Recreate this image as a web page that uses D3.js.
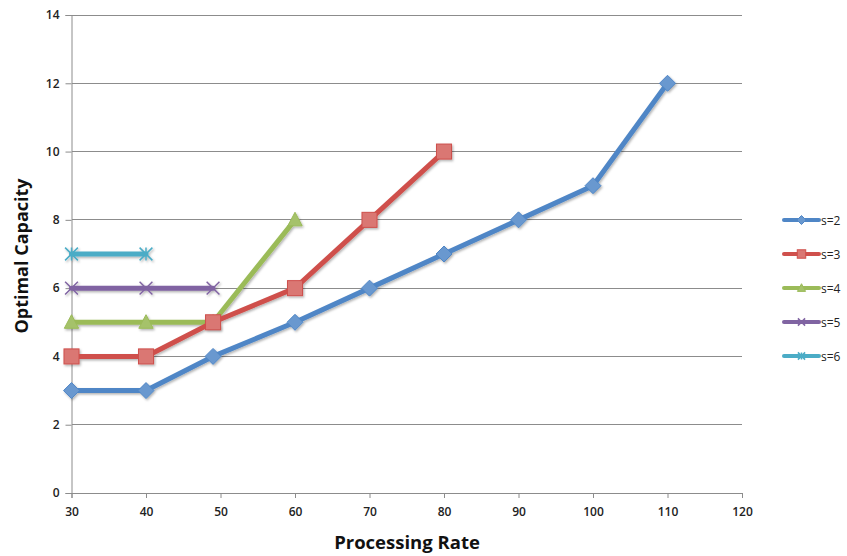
<!DOCTYPE html>
<html>
<head>
<meta charset="utf-8">
<script src="https://cdn.jsdelivr.net/npm/d3@7"></script>
<style>
  html, body { margin: 0; padding: 0; background: #fff; }
  svg { display: block; }
  text { font-family: "Open Sans", "Noto Sans", sans-serif; }
</style>
</head>
<body>
<svg id="chart" width="847" height="556"></svg>
<script>
// Optimal capacity by processing rate, one series per s
const xTicks = [30, 40, 50, 60, 70, 80, 90, 100, 110, 120];
const yTicks = [0, 2, 4, 6, 8, 10, 12, 14];

const s2Rate = [30, 40, 49, 60, 70, 80, 90, 100, 110];
const s2Cap  = [3, 3, 4, 5, 6, 7, 8, 9, 12];
const s3Rate = [30, 40, 49, 60, 70, 80];
const s3Cap  = [4, 4, 5, 6, 8, 10];
const s4Rate = [30, 40, 49, 60];
const s4Cap  = [5, 5, 5, 8];
const s5Rate = [30, 40, 49];
const s5Cap  = [6, 6, 6];
const s6Rate = [30, 40];
const s6Cap  = [7, 7];

const seriesNames = ["s=2", "s=3", "s=4", "s=5", "s=6"];
const seriesColors = ["#4f86c6", "#cf504c", "#9bbb59", "#8064a2", "#4bacc6"];
const seriesShapes = ["diamond", "square", "triangle", "x", "star"];

const series = [
  [s2Rate, s2Cap], [s3Rate, s3Cap], [s4Rate, s4Cap], [s5Rate, s5Cap], [s6Rate, s6Cap]
].map(([xs, ys], i) => ({
  name: seriesNames[i], color: seriesColors[i], shape: seriesShapes[i],
  points: xs.map((x, j) => ({ x, y: ys[j] }))
}));

const svg = d3.select("#chart");
const plotLeft = 71.5, plotRight = 742, plotTop = 15, plotBottom = 493;

const x = d3.scaleLinear().domain([30, 120]).range([plotLeft, plotRight]);
const y = d3.scaleLinear().domain([0, 14]).range([plotBottom, plotTop]);

// soft drop shadow for markers and lines
const defs = svg.append("defs");
const f = defs.append("filter").attr("id", "shadow")
  .attr("x", "-30%").attr("y", "-30%").attr("width", "160%").attr("height", "160%");
f.append("feDropShadow").attr("dx", 1.2).attr("dy", 1.5).attr("stdDeviation", 1.2)
  .attr("flood-color", "#000").attr("flood-opacity", 0.3);

// horizontal gridlines
svg.append("g").selectAll("line").data(yTicks.filter(d => d > 0)).join("line")
  .attr("x1", plotLeft).attr("x2", plotRight)
  .attr("y1", d => y(d)).attr("y2", d => y(d))
  .attr("stroke", "#8c8c8c").attr("stroke-width", 1).attr("shape-rendering", "crispEdges");

// y axis
const yAxis = svg.append("g").attr("transform", `translate(${plotLeft},0)`)
  .call(d3.axisLeft(y).tickValues(yTicks).tickSize(6).tickPadding(6).tickFormat(d3.format("d")));
yAxis.select(".domain").attr("stroke", "#8c8c8c");
yAxis.selectAll(".tick line").attr("stroke", "#8c8c8c");
yAxis.selectAll("text").attr("font-size", 12).attr("fill", "#222").attr("font-weight", 600);

// x axis
const xAxis = svg.append("g").attr("transform", `translate(0,${plotBottom})`)
  .call(d3.axisBottom(x).tickValues(xTicks).tickSize(5).tickPadding(9).tickFormat(d3.format("d")));
xAxis.select(".domain").attr("stroke", "#8c8c8c");
xAxis.selectAll(".tick line").attr("stroke", "#8c8c8c");
xAxis.selectAll("text").attr("font-size", 12).attr("fill", "#222").attr("font-weight", 600);

// axis titles
svg.append("text").attr("x", 407).attr("y", 549).attr("text-anchor", "middle")
  .attr("font-size", 18.5).attr("font-weight", 700).attr("fill", "#111").text("Processing Rate");
svg.append("text").attr("transform", "translate(28,256) rotate(-90)").attr("text-anchor", "middle")
  .attr("font-size", 18).attr("font-weight", 700).attr("fill", "#111").text("Optimal Capacity");

function lighten(c, k) { return d3.interpolateRgb(c, "#fff")(k); }

function drawMarker(g, shape, color, size) {
  const s = size;
  if (shape === "diamond") {
    g.append("path").attr("d", `M0,${-s}L${s},0L0,${s}L${-s},0Z`)
      .attr("fill", lighten(color, 0.15)).attr("stroke", color).attr("stroke-width", 1);
  } else if (shape === "square") {
    g.append("rect").attr("x", -s * 0.94).attr("y", -s * 0.94).attr("width", s * 1.88).attr("height", s * 1.88)
      .attr("fill", lighten(color, 0.22)).attr("stroke", color).attr("stroke-width", 1);
  } else if (shape === "triangle") {
    g.append("path").attr("d", `M0,${-s * 0.95}L${s * 0.9},${s * 0.75}L${-s * 0.9},${s * 0.75}Z`)
      .attr("fill", lighten(color, 0.1)).attr("stroke", color).attr("stroke-width", 1);
  } else if (shape === "x") {
    const a = s * 0.8;
    g.append("path").attr("d", `M${-a},${-a}L${a},${a}M${-a},${a}L${a},${-a}`)
      .attr("stroke", color).attr("stroke-width", 1.5).attr("fill", "none");
  } else if (shape === "star") {
    const a = s * 0.8;
    g.append("path").attr("d", `M${-a},${-a}L${a},${a}M${-a},${a}L${a},${-a}M0,${-a}L0,${a}`)
      .attr("stroke", color).attr("stroke-width", 1.5).attr("fill", "none");
  }
}

const line = d3.line().x(d => x(d.x)).y(d => y(d.y));

// draw series from back (s=6) to front (s=2)
series.slice().reverse().forEach(sr => {
  const g = svg.append("g").attr("filter", "url(#shadow)");
  g.append("path").datum(sr.points).attr("d", line)
    .attr("fill", "none").attr("stroke", sr.color).attr("stroke-width", 5)
    .attr("stroke-linejoin", "round").attr("stroke-linecap", "round");
  sr.points.forEach(p => {
    const mg = g.append("g").attr("transform", `translate(${x(p.x)},${y(p.y)})`);
    drawMarker(mg, sr.shape, sr.color, 8);
  });
});

// legend
const legendY = [220, 254, 288, 322, 356];
series.forEach((sr, i) => {
  const g = svg.append("g").attr("transform", `translate(0,${legendY[i]})`);
  g.append("line").attr("x1", 784).attr("x2", 819).attr("y1", 0).attr("y2", 0)
    .attr("stroke", sr.color).attr("stroke-width", 4).attr("stroke-linecap", "round");
  const mg = g.append("g").attr("transform", "translate(801.5,0)");
  drawMarker(mg, sr.shape, sr.color, 4.5);
  g.append("text").attr("x", 821).attr("y", 4.5).attr("font-size", 12)
    .attr("fill", "#222").text(sr.name);
});
</script>
</body>
</html>
